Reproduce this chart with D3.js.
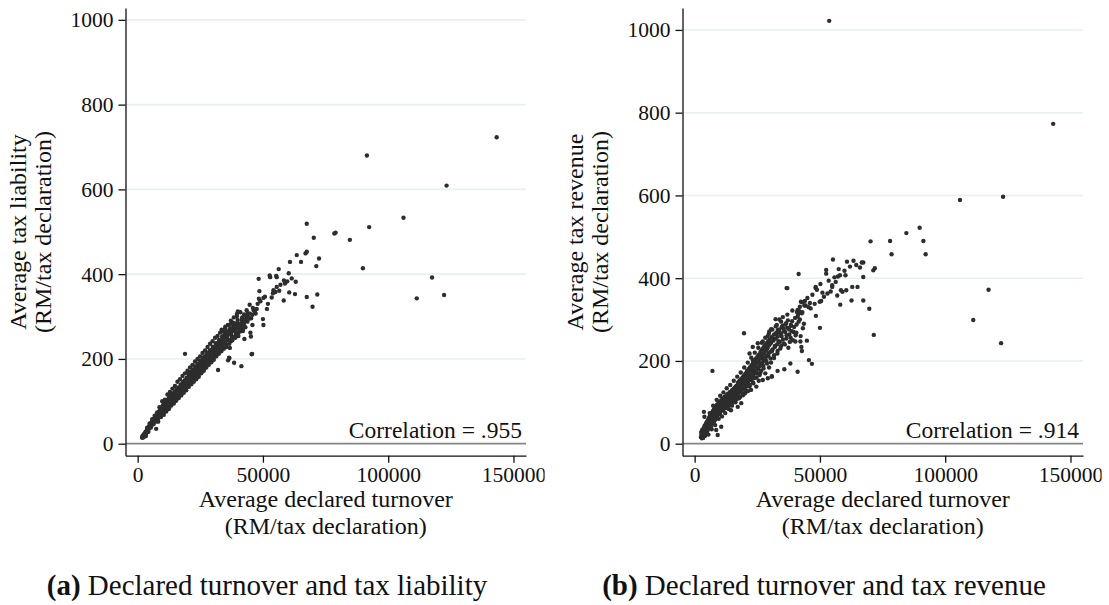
<!DOCTYPE html>
<html>
<head>
<meta charset="UTF-8">
<title>Declared turnover, tax liability and tax revenue</title>
<script src="https://d3js.org/d3.v7.min.js"></script>
<style>
  body { margin: 0; background: #fff; }
  svg text { font-family: "Liberation Serif", "Times New Roman", serif; fill: #111; }
</style>
</head>
<body>
<div id="chart"></div>
<script>

// axis ticks and labels
var xTicks = [0, 50000, 100000, 150000];
var yTicks = [0, 200, 400, 600, 800, 1000];
var xTitle = ["Average declared turnover", "(RM/tax declaration)"];
var liabilityTitle = ["Average tax liability", "(RM/tax declaration)"];
var revenueTitle = ["Average tax revenue", "(RM/tax declaration)"];
var corrLabels = ["Correlation = .955", "Correlation = .914"];
var captionTags = ["(a)", "(b)"];
var captions = ["Declared turnover and tax liability", "Declared turnover and tax revenue"];

// [average declared turnover, average tax liability]
var liabilityPoints = [
  [1800,14],[1900,17],[2000,15],[2100,19],[2200,16],[2300,20],[2400,17],[2500,22],[2600,19],[2700,23],
  [2800,20],[2900,25],[3000,22],[3100,27],[3200,24],[3300,28],[3400,25],[3500,30],[3600,27],[3700,32],
  [3800,29],[3900,34],[4000,31],[4100,36],[4200,33],[4300,38],[4400,35],[4500,40],[4600,37],[4700,42],
  [4800,38],[4900,44],[5000,40],[5100,46],[5200,42],[5300,47],[5400,44],[5500,49],[5600,45],[5700,51],
  [5800,47],[5900,53],[6000,49],[6100,55],[6200,50],[6300,56],[6400,52],[6500,58],[6600,53],[6700,60],
  [6800,55],[6900,61],[7000,57],[7100,63],[7200,58],[7300,65],[7400,35],[7500,60],[7600,67],[7700,62],
  [7800,69],[7900,64],[8000,71],[8100,59],[8200,67],[8300,73],[8400,62],[8500,75],[8600,69],[8700,77],
  [8800,65],[8900,72],[9000,80],[9100,68],[9200,75],[9300,82],[9400,71],[9500,78],[9600,85],[9700,73],
  [9800,81],[9900,88],[10000,76],[10100,84],[10200,91],[10300,72],[10400,80],[10500,87],[10600,94],[10700,77],
  [10800,84],[10900,97],[11000,90],[11200,81],[11300,94],[11500,100],[11600,86],[11800,97],[12000,104],[12100,90],
  [12300,100],[12500,108],[12600,84],[12800,96],[13000,104],[13100,112],[13300,92],[13500,106],[13600,116],[13800,100],
  [14000,110],[14200,119],[14300,96],[14500,106],[14700,115],[14900,123],[15000,101],[15200,111],[15400,120],[15600,128],
  [15800,107],[16000,117],[16200,126],[16400,133],[16600,112],[16800,123],[17000,131],[17200,139],[17400,118],[17600,128],
  [17800,137],[18000,145],[18200,123],[18400,134],[18600,143],[18900,212],[18800,150],[19000,129],[19200,140],[19400,149],
  [19600,156],[19800,135],[20000,146],[20200,155],[20400,163],[20600,140],[20800,152],[21000,161],[21200,169],[21400,146],
  [21600,158],[21800,167],[22000,175],[22300,152],[22500,164],[22800,173],[23000,182],[23300,158],[23500,170],[23800,180],
  [24000,189],[24300,163],[24600,177],[24900,187],[25200,196],[25500,170],[25800,184],[26100,194],[26400,204],[26700,178],
  [27000,191],[27300,202],[27600,212],[27900,186],[28200,199],[28500,210],[28800,220],[29100,193],[29400,207],[29700,218],
  [30000,229],[30300,202],[30600,215],[30900,226],[31200,237],[31500,211],[31800,223],[32100,174],[32200,234],[32500,245],
  [32800,218],[33100,231],[33400,242],[33700,253],[34000,226],[34300,239],[34700,250],[35000,261],[35400,234],[35800,247],
  [36100,197],[36200,258],[36500,203],[36600,268],[37000,243],[37400,256],[37800,266],[38200,276],[38500,191],[38600,252],
  [39000,264],[39400,275],[39800,285],[40200,262],[40600,272],[41000,283],[41400,183],[41500,292],[42000,270],[42400,281],
  [42900,291],[43300,300],[43800,288],[44300,298],[44800,307],[45300,296],[45700,212],[45800,304],[46300,314],
  [33500,269],[35000,276],[36500,280],[38100,272],[37500,287],[38400,278],[37800,283],[39500,283],[40500,270],[41500,277],
  [42000,266],[39600,301],[41000,310],[42500,305],[43500,315],[44000,308],[40000,312],[43100,292],[50000,294],[45800,280],
  [50200,280],[45000,262],[45200,253],[42600,247],[37200,242],[37300,246],[36800,226],[45500,211],[36600,202],[46800,311],
  [47100,307],[51600,318],[44700,328],[47900,330],[69800,323],[58300,338],[48400,342],[50800,347],[50200,344],[67500,346],
  [71700,352],[60500,357],[62800,353],[48600,360],[54000,355],[54200,362],[55000,358],[56500,361],[111400,343],[122300,351],
  [58400,385],[59000,381],[58800,378],[59700,383],[63100,382],[117500,392],[48300,389],[52700,397],[52900,393],[55300,396],
  [55500,393],[60300,402],[56300,412],[89900,414],[71300,419],[60800,429],[65200,429],[72400,437],[63500,445],[67000,449],
  [67500,453],[70300,486],[84700,481],[78500,496],[79000,498],[92400,511],[67500,519],[106100,533],[123300,609],[91500,680],
  [143300,723],
  [2050,18],[2350,15],[2650,21],[2950,23],[3250,26],[3550,28],[3850,31],[4150,34],[4450,38],[4750,40],
  [5050,43],[5350,46],[5650,48],[5950,50],[6250,53],[6550,55],[6850,58],[7150,60],[7450,63],[7750,65],
  [8050,67],[8350,70],[8650,72],[8950,76],[9250,78],[9550,81],[9850,84],
  [10050,80],[10150,89],[10350,85],[10450,93],[10650,82],[10750,90],[10950,86],[11050,95],[11150,88],[11350,85],
  [11450,97],[11650,91],[11750,100],[11950,94],[12050,99],[12250,92],[12450,103],[12550,96],[12750,101],[12950,108],
  [13050,97],[13250,104],[13450,111],[13550,101],[13750,107],[13950,114],[14050,104],[14250,110],[14450,117],[14550,108],
  [14750,113],[14950,119],[15050,111],[15250,116],[15450,124],[15550,113],[15750,120],[15950,127],[16050,115],[16250,122],
  [16450,129],[16550,119],[16750,126],[16950,133],[17050,121],[17250,128],[17450,136],[17550,124],[17750,132],[17950,139],
  [18050,127],[18250,135],[18450,141],[18550,130],[18750,138],[18950,145],[19050,133],[19250,142],[19450,147],[19550,136],
  [19750,145],[19950,151],
  [20050,140],[20250,148],[20450,156],[20550,145],[20750,153],[20950,166],[21050,149],[21250,157],[21450,164],[21550,151],
  [21750,160],[21950,170],[22050,156],[22250,165],[22450,172],[22550,160],[22750,168],[22950,177],[23050,163],[23250,173],
  [23450,180],[23550,166],[23750,175],[23950,185],[24050,170],[24250,178],[24450,186],[24550,174],[24750,182],[24950,192],
  [25050,176],[25250,186],[25450,193],[25550,180],[25750,189],[25950,199],[26050,183],[26250,192],[26450,198],[26550,186],
  [26750,196],[26950,206],[27050,190],[27250,199],[27450,207],[27550,193],[27750,203],[27950,214],[28050,196],[28350,206],
  [28650,215],[28950,200],[29250,212],[29550,222],[29850,207],[30150,217],[30450,227],[30750,210],[31050,221],[31350,230],
  [31650,215],[31950,228],[32250,239],[32550,222],[32850,236],
  [33250,228],[33650,246],[34050,234],[34450,256],[34850,240],[35250,265],[35650,252],[36050,262],[36400,244],[36900,272],
  [37300,262],[37700,250],[38300,285],[38800,270],[39300,258],[39900,292],[40400,280],[40900,265],[41700,298],[42300,286],
  [43000,275],[43700,305],[44500,295],[46000,320],[47500,318],[49000,336],[52000,330],[53500,345],[55500,370],[57000,375],
  [61500,390],
  [3300,18],[3800,38],[4300,28],[4800,48],[5300,38],[5800,58],[6300,46],[6800,66],[7300,52],[7800,74],
  [8200,52],[8700,86],[9300,63],[9800,100],[10400,68],[10900,104],[11400,76],[11900,116],[12400,82],[12900,122],
  [13400,90],[13900,130],[14400,95],[14900,136],[15400,102],[15900,146],[16400,108],[16900,152],[17400,114],[17900,160],
  [18400,120],[18900,166],[19400,126],[19900,172],[20400,134],[20900,180],[21400,140],[21900,186],[22400,146],[22900,194],
  [23400,152],[23900,200],[24400,158],[24900,206],[25400,166],[25900,214],[26400,172],[26900,220],[27400,180],[27900,228],
  [28400,186],[28900,236],[29400,192],[29900,242],[30400,198],[30900,250],[31400,206],[31900,254],[32400,212],[32900,262],
  [33400,218],[33900,266],[34400,224],[34900,272],[35400,228],[36000,280],[36600,236],[37200,290],[37800,244],[38400,298],
  [39000,250],[39600,306],[40200,254]
];

// [average declared turnover, average tax revenue]
var revenuePoints = [
  [2500,16],[2700,22],[2900,13],[3000,19],[3100,27],[3200,15],[3400,24],[3500,31],[3600,18],[3700,77],
  [3700,28],[3800,35],[3900,65],[3900,22],[4000,32],[4100,40],[4200,26],[4300,36],[4400,44],[4500,30],
  [4600,40],[4700,48],[4800,34],[4900,44],[5000,52],[5100,38],[5200,47],[5300,56],[5400,41],[5500,51],
  [5600,60],[5700,45],[5800,55],[5900,64],[6000,48],[6100,58],[6200,68],[6300,52],[6400,62],[6500,42],
  [6600,71],[6700,56],[6800,66],[6900,75],[7000,59],[7100,176],[7200,69],[7300,79],[7400,62],[7500,73],
  [7600,52],[7700,83],[7800,66],[7900,76],[8000,86],[8100,70],[8200,58],[8300,80],[8400,90],[8600,33],
  [8600,73],[8700,84],[8900,94],[9000,66],[9100,77],[9200,21],[9300,88],[9500,98],[9600,80],[9800,91],
  [10000,101],[10100,72],[10200,84],[10400,95],[10600,41],[10600,105],[10800,88],[11000,98],[11200,109],[11400,80],
  [11500,91],[11700,102],[11900,113],[12100,95],[12300,106],[12500,86],[12700,117],[12900,99],[13100,110],[13300,121],
  [13500,93],[13700,103],[13900,114],[14100,125],[14300,107],[14500,81],[14600,118],[14800,98],[15000,129],[15200,111],
  [15400,122],[15600,133],[15800,104],[16000,115],[16200,126],[16400,137],[16600,119],[16800,108],[17000,130],[17200,89],
  [17300,141],[17500,122],[17700,134],[17900,145],[18100,113],[18300,126],[18600,98],[18600,138],[18800,149],[19000,130],
  [19300,117],[19500,142],[19700,267],[19700,153],[19900,134],[20100,122],[20300,146],[20500,157],[20700,138],[21000,168],
  [21200,127],[21400,150],[21700,161],[21900,218],[22000,142],[22300,172],[22500,130],[22700,154],[23000,165],[23200,202],
  [23200,234],[23400,146],[23700,177],[24000,159],[24300,188],[24600,138],[24900,170],[25200,243],[25300,182],[25600,152],
  [25900,166],[26100,194],[26500,176],[26900,207],[27200,154],[27200,247],[27400,188],[27800,219],[28200,170],[28600,200],
  [29000,230],[29200,158],[29200,260],[29400,212],[29700,184],[29800,271],[30100,242],[30500,277],[30500,196],[30800,163],
  [30900,224],[31300,254],[31700,207],[32000,236],[32300,301],[32500,265],[32800,287],[33000,218],[33100,176],[33400,248],
  [33800,276],[34200,230],[34500,295],[34700,260],[35100,285],[35600,242],[35800,180],[36100,270],[36500,291],[36600,254],
  [37000,280],[37400,232],[37800,264],[38200,194],[38400,287],[38800,272],[39200,250],[39700,282],[40200,247],[40300,262],
  [40600,268],[40800,318],[41100,174],[41100,307],[41100,323],[41500,410],[41500,295],[41800,320],[42000,331],[42200,247],
  [42300,260],[42400,343],[42600,234],[42800,224],[42800,315],[43000,342],[43200,279],[43600,290],[43800,334],[44300,334],
  [44800,249],[45500,330],[45600,202],[46300,327],[46800,193],[47900,338],[48300,379],[48300,376],[48400,309],[49900,343],
  [50000,280],[50500,345],[51600,355],[52500,420],[52500,411],[53000,363],[53700,1022],[54300,368],[54900,383],[54900,379],
  [55200,445],[56300,391],[56900,358],[57500,422],[58000,407],[58100,336],[58400,371],[59000,367],[60200,407],[60500,371],
  [60800,440],[62600,346],[62900,379],[63400,442],[65000,379],[66700,438],[67300,438],[67300,403],[67300,346],[69700,326],
  [70200,489],[71300,419],[71500,263],[71900,424],[78000,490],[78600,458],[84500,509],[89800,522],[91300,490],[92200,458],
  [105900,589],[111200,299],[117300,372],[122300,243],[123100,597],[143100,773],[36700,376],[37000,376],[30800,162],[33200,275],
  [34000,268],[37500,280],[38500,285],[35500,278],
  [2600,28],[2800,16],[3000,33],[3200,24],[3400,14],[3600,38],[3800,27],[4000,44],[4200,19],[4400,33],
  [4600,50],[4800,41],[5000,30],[5200,56],[5400,47],[5600,36],[5800,62],[6000,53],[6200,42],[6400,68],
  [6600,58],[6800,47],[7000,72],[7200,62],[7400,52],[7600,76],[7800,70],[8000,60],[8200,82],[8400,74],
  [8600,64],[8800,90],[9000,79],[9200,70],[9400,95],[9600,86],[9800,76],
  [10100,97],[10300,78],[10500,90],[10700,100],[10900,82],[11100,93],[11300,104],[11500,86],[11700,96],[11900,108],
  [12100,88],[12300,100],[12500,112],[12700,92],[12900,104],[13100,116],[13300,97],[13500,108],[13700,120],[13900,100],
  [14100,112],[14300,124],[14500,104],[14700,116],[14900,128],[15100,107],[15300,120],[15500,132],[15700,112],[15900,124],
  [16100,136],[16300,114],[16500,128],[16700,140],[16900,119],[17100,132],[17300,148],[17500,126],[17700,139],[17900,152],
  [18100,130],[18300,143],[18500,156],[18700,134],[18900,147],[19100,160],[19300,138],[19500,152],[19700,165],[19900,144],
  [20100,157],[20300,170],[20500,145],[20700,162],[20900,176],[21100,150],[21300,166],[21500,180],[21700,154],[21900,172],
  [22100,185],[22300,158],[22500,176],[22700,190],[22900,164],[23100,181],[23300,195],[23500,168],[23700,185],[23900,200],
  [24100,172],[24300,192],[24500,206],[24700,176],[24900,196],[25100,211],[25300,182],[25500,201],[25700,216],[25900,187],
  [26100,206],[26300,222],[26500,192],[26700,211],[26900,228],[27100,197],[27300,216],[27500,233],[27700,202],[27900,222],
  [28100,238],[28300,208],[28500,226],[28700,243],[28900,212],[29100,232],[29300,248],[29500,218],[29700,238],[29900,252],
  [30200,222],[30500,244],[30800,258],[31100,228],[31400,249],[31700,264],[32000,234],[32300,254],[32600,268],[32900,240],
  [33200,259],
  [33600,274],[34000,246],[34400,266],[34800,282],[35200,252],[35700,272],[36200,288],[36700,262],[37200,298],[37700,276],
  [38300,256],[38900,296],[39500,270],[40100,304],[40700,288],[41300,312],[42000,300],[43000,318],[44000,345],[45000,352],
  [46000,340],[47000,360],[48800,372],[50200,386],[51000,365],[53500,394],[55800,402],[57200,404],[59800,418],[62000,428],
  [64500,432],[66000,426],
  [5500,22],[6000,74],[6800,35],[7400,92],[8200,45],[8800,106],[9600,60],[10200,116],[10900,66],[11500,124],
  [12200,74],[12800,134],[13600,84],[14200,142],[14900,92],[15600,152],[16300,100],[17000,162],[17700,110],[18400,172],
  [19100,120],[19800,184],[20500,128],[21200,196],[21900,138],[22600,208],[23300,148],[24000,220],[24700,160],[25400,232],
  [26100,170],[26800,244],[27500,182],[28200,256],[28900,194],[29600,266],[30300,206],[31000,276],[31700,214],[32400,284],
  [33100,224],[33800,300],[34500,236],[35200,306],[36000,240],[37000,312],[38000,246],[39000,322]
];

var panels = [
  {pts: liabilityPoints, yTitle: liabilityTitle, yMax: 1028, dx: 0},
  {pts: revenuePoints, yTitle: revenueTitle, yMax: 1053, dx: 557}
];

var W = 1109, H = 605;
var plotL = 125.5, plotR = 526, plotT = 8, plotB = 455.7, zeroY = 443.7;

var svg = d3.select("#chart").append("svg")
    .attr("width", W)
    .attr("height", H);

panels.forEach(function(p, i) {

  svg.append("clipPath").attr("id", "clip" + i)
    .append("rect").attr("x", 0).attr("y", 0).attr("width", 544.6).attr("height", H);

  var g = svg.append("g")
      .attr("transform", "translate(" + p.dx + ",0)")
      .attr("clip-path", "url(#clip" + i + ")");

  var x = d3.scaleLinear().domain([-4850, 155000]).range([plotL, plotR]);
  // zero sits a little above the x axis, same row in both panels
  var yMin = -p.yMax * (plotB - zeroY) / (zeroY - plotT);
  var y = d3.scaleLinear().domain([yMin, p.yMax]).range([plotB, plotT]);

  // grid lines
  g.selectAll(".grid").data(yTicks.filter(function(d) { return d > 0; }))
    .enter().append("line")
      .attr("x1", plotL).attr("x2", plotR)
      .attr("y1", function(d) { return y(d); })
      .attr("y2", function(d) { return y(d); })
      .attr("stroke", "#e6eff2")
      .attr("stroke-width", 1.6);

  // zero line
  g.append("line")
    .attr("x1", plotL).attr("x2", plotR)
    .attr("y1", y(0)).attr("y2", y(0))
    .attr("stroke", "#858585")
    .attr("stroke-width", 1.7);

  g.selectAll(".dot").data(p.pts)
    .enter().append("circle")
      .attr("cx", function(d) { return x(d[0]); })
      .attr("cy", function(d) { return y(d[1]); })
      .attr("r", 2.2)
      .attr("fill", "#2d2d2d");

  var yAxis = d3.axisLeft(y).tickValues(yTicks).tickSize(7).tickSizeOuter(0)
      .tickPadding(5).tickFormat(d3.format("d"));
  var ya = g.append("g").attr("transform", "translate(" + plotL + ",0)").call(yAxis);

  var xAxis = d3.axisBottom(x).tickValues(xTicks).tickSize(7).tickSizeOuter(0)
      .tickPadding(4).tickFormat(d3.format("d"));
  var xa = g.append("g").attr("transform", "translate(0," + plotB + ")").call(xAxis);

  [ya, xa].forEach(function(a) {
    a.attr("font-size", 21.5);
    a.selectAll("path, line").attr("stroke", "#111").attr("stroke-width", 1.3);
    a.selectAll("text").attr("fill", "#111");
  });

  // axis titles
  var yt = g.append("text")
      .attr("transform", "translate(0,232) rotate(-90)")
      .attr("text-anchor", "middle")
      .attr("font-size", 24);
  yt.append("tspan").attr("x", 0).attr("y", 25.5).text(p.yTitle[0]);
  yt.append("tspan").attr("x", 0).attr("y", 51).text(p.yTitle[1]);

  var xt = g.append("text").attr("text-anchor", "middle").attr("font-size", 24);
  xt.append("tspan").attr("x", (plotL + plotR) / 2).attr("y", 507).text(xTitle[0]);
  xt.append("tspan").attr("x", (plotL + plotR) / 2).attr("y", 534).text(xTitle[1]);

  g.append("text")
    .attr("x", 522).attr("y", 438)
    .attr("text-anchor", "end")
    .attr("font-size", 23.5)
    .text(corrLabels[i]);

  var cap = g.append("text")
      .attr("x", 267).attr("y", 595)
      .attr("text-anchor", "middle")
      .attr("font-size", 29);
  cap.append("tspan").attr("font-weight", "bold").text(captionTags[i]);
  cap.append("tspan").text(" " + captions[i]);
});

</script>
</body>
</html>
